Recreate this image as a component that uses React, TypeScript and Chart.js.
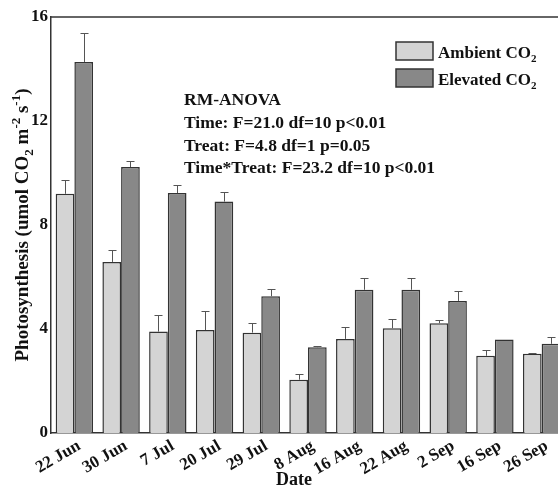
import React, { useEffect, useRef } from "react";
import { Chart, registerables } from "chart.js";

Chart.register(...registerables);

const categories = ["22 Jun", "30 Jun", "7 Jul", "20 Jul", "29 Jul", "8 Aug", "16 Aug", "22 Aug", "2 Sep", "16 Sep", "26 Sep"];
const ambientMean = [9.2, 6.58, 3.9, 3.96, 3.86, 2.05, 3.62, 4.03, 4.22, 2.97, 3.05];
const ambientErr = [0.53, 0.46, 0.64, 0.74, 0.37, 0.23, 0.46, 0.34, 0.14, 0.22, 0.03];
const elevatedMean = [14.27, 10.23, 9.23, 8.9, 5.26, 3.3, 5.51, 5.51, 5.08, 3.6, 3.43];
const elevatedErr = [1.11, 0.24, 0.3, 0.36, 0.28, 0.03, 0.44, 0.44, 0.38, 0.0, 0.25];
const yTicks = [0, 4, 8, 12, 16];
const annotationLines = [
  "RM-ANOVA",
  "Time: F=21.0 df=10 p<0.01",
  "Treat: F=4.8 df=1 p=0.05",
  "Time*Treat: F=23.2 df=10 p<0.01",
];

const FONT = '"Liberation Serif", "Times New Roman", serif';
const AMBIENT_COLOR = "#d4d4d4";
const ELEVATED_COLOR = "#888888";
const BORDER_COLOR = "#333333";

type Seg = { t: string; mode?: "sub" | "sup" };

function drawRich(ctx: CanvasRenderingContext2D, segs: Seg[], x: number, y: number, size: number, align: "left" | "center", smallRatio = 0.62) {
  const main = `bold ${size}px ${FONT}`;
  const small = `bold ${Math.round(size * smallRatio)}px ${FONT}`;
  let total = 0;
  for (const s of segs) {
    ctx.font = s.mode ? small : main;
    total += ctx.measureText(s.t).width;
  }
  let cx = align === "center" ? x - total / 2 : x;
  ctx.textAlign = "left";
  ctx.textBaseline = "alphabetic";
  for (const s of segs) {
    ctx.font = s.mode ? small : main;
    const dy = s.mode === "sub" ? size * 0.25 : s.mode === "sup" ? -size * 0.42 : 0;
    ctx.fillText(s.t, cx, y + dy);
    cx += ctx.measureText(s.t).width;
  }
}

const decorPlugin = {
  id: "decor",
  afterDatasetsDraw(chart: any) {
    const ctx: CanvasRenderingContext2D = chart.ctx;
    const yScale = chart.scales.y;
    const area = chart.chartArea;
    ctx.save();
    const sets = [
      { mean: ambientMean, err: ambientErr },
      { mean: elevatedMean, err: elevatedErr },
    ];
    ctx.strokeStyle = "#555555";
    ctx.lineWidth = 1;
    sets.forEach((s, di) => {
      const meta = chart.getDatasetMeta(di);
      meta.data.forEach((bar: any, j: number) => {
        if (!s.err[j]) return;
        const x = Math.round(bar.x) + 0.5;
        const y0 = yScale.getPixelForValue(s.mean[j]);
        const y1 = Math.round(yScale.getPixelForValue(s.mean[j] + s.err[j])) + 0.5;
        ctx.beginPath();
        ctx.moveTo(x, y0);
        ctx.lineTo(x, y1);
        ctx.moveTo(x - 4, y1);
        ctx.lineTo(x + 4, y1);
        ctx.stroke();
      });
    });
    ctx.strokeStyle = BORDER_COLOR;
    ctx.lineWidth = 1.5;
    ctx.beginPath();
    ctx.moveTo(area.left, area.top);
    ctx.lineTo(chart.width, area.top);
    ctx.stroke();
    ctx.restore();
  },
  afterDraw(chart: any) {
    const ctx: CanvasRenderingContext2D = chart.ctx;
    ctx.save();
    ctx.fillStyle = "#111111";
    const legend = [
      { color: AMBIENT_COLOR, label: "Ambient CO", y: 42 },
      { color: ELEVATED_COLOR, label: "Elevated CO", y: 69 },
    ];
    legend.forEach((l) => {
      ctx.fillStyle = l.color;
      ctx.fillRect(396, l.y, 37, 18);
      ctx.strokeStyle = BORDER_COLOR;
      ctx.lineWidth = 1.5;
      ctx.strokeRect(396, l.y, 37, 18);
      ctx.fillStyle = "#111111";
      drawRich(ctx, [{ t: l.label }, { t: "2", mode: "sub" }], 438, l.y + 16, 17, "left");
    });
    annotationLines.forEach((line, i) => {
      drawRich(ctx, [{ t: line }], 184, 105 + i * 22.8, 17.5, "left");
    });
    ctx.save();
    ctx.translate(28, 225);
    ctx.rotate(-Math.PI / 2);
    drawRich(
      ctx,
      [
        { t: "Photosynthesis (umol CO" },
        { t: "2", mode: "sub" },
        { t: " m" },
        { t: "-2", mode: "sup" },
        { t: " s" },
        { t: "-1", mode: "sup" },
        { t: ")" },
      ],
      0,
      0,
      19,
      "center",
      0.66
    );
    ctx.restore();
    drawRich(ctx, [{ t: "Date" }], 294, 485, 18, "center");
    ctx.restore();
  },
};

export default function App() {
  const ref = useRef<HTMLCanvasElement | null>(null);
  useEffect(() => {
    if (!ref.current) return;
    const chart = new Chart(ref.current, {
      type: "bar",
      data: {
        labels: categories,
        datasets: [
          {
            label: "Ambient CO2",
            data: ambientMean,
            backgroundColor: AMBIENT_COLOR,
            borderColor: BORDER_COLOR,
            borderWidth: 1.5,
          },
          {
            label: "Elevated CO2",
            data: elevatedMean,
            backgroundColor: ELEVATED_COLOR,
            borderColor: BORDER_COLOR,
            borderWidth: 1.5,
          },
        ],
      },
      options: {
        responsive: false,
        animation: false,
        devicePixelRatio: 1,
        layout: { padding: { left: 0, right: 0, top: 17, bottom: 0 } },
        datasets: { bar: { categoryPercentage: 0.8, barPercentage: 1.0 } },
        plugins: { legend: { display: false }, tooltip: { enabled: false } },
        scales: {
          x: {
            grid: { display: false, drawTicks: false },
            border: { display: true, color: BORDER_COLOR, width: 1.5 },
            ticks: {
              color: "#111111",
              font: { family: FONT, size: 17, weight: "bold" },
              minRotation: 30,
              maxRotation: 30,
              padding: 3,
              labelOffset: 5,
              autoSkip: false,
            },
            afterFit(scale: any) {
              scale.height = 58;
            },
          },
          y: {
            min: 0,
            max: 16,
            grid: { display: false, drawTicks: false },
            border: { display: true, color: BORDER_COLOR, width: 1.5 },
            afterBuildTicks(scale: any) {
              scale.ticks = yTicks.map((v) => ({ value: v }));
            },
            ticks: {
              color: "#111111",
              font: { family: FONT, size: 17, weight: "bold" },
              padding: 3,
            },
            afterFit(scale: any) {
              scale.width = 51;
            },
          },
        },
      },
      plugins: [decorPlugin],
    } as any);
    return () => chart.destroy();
  }, []);
  return (
    <div style={{ position: "absolute", left: 0, top: 0, width: 558, height: 491, overflow: "hidden", background: "#ffffff" }}>
      <canvas ref={ref} width={565} height={491} style={{ display: "block" }} />
    </div>
  );
}
